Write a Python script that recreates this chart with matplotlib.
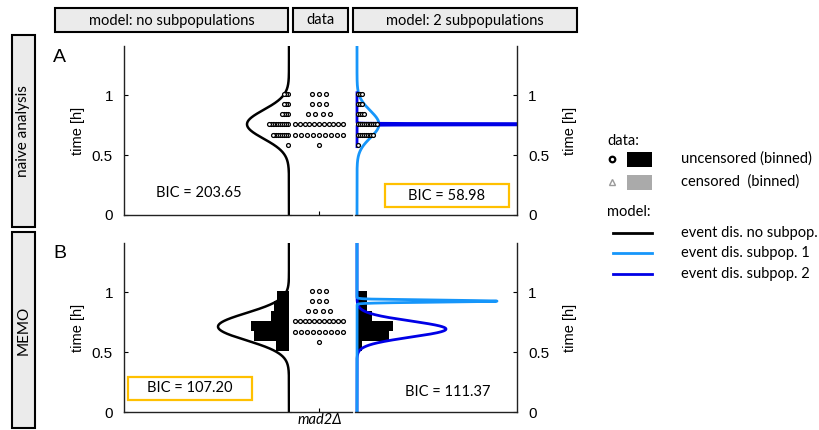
import numpy as np
import matplotlib
matplotlib.use("Agg")
import matplotlib.pyplot as plt
from matplotlib.patches import Rectangle
from matplotlib.lines import Line2D

# ---------------- data ----------------
time_rows = [0.585, 0.67, 0.757, 0.84, 0.925, 1.01]      # observed event times [h]
row_counts = [1, 9, 11, 4, 3, 3]                          # number of cells per time
bin_edges = [0.51, 0.594, 0.677, 0.76, 0.844, 0.927, 1.01]
hist_memo_nosub = [1.25, 3.5, 3.75, 1.75, 1.5, 1.2]       # binned density (left, MEMO)
hist_memo_2sub = [0.5, 3.2, 3.6, 1.5, 1.0, 1.0]           # binned density (right, MEMO)

# model event distributions: (mean, sd, amplitude)
naive_nosub = (0.757, 0.12, 4.2)
naive_sub1 = (0.757, 0.113, 2.2)
naive_sub2 = (0.757, 0.003, 60.0)
memo_nosub = (0.712, 0.113, 7.1)
memo_sub1 = (0.925, 0.008, 14.0)
memo_sub2 = (0.692, 0.067, 8.9)

bic_values = [203.65, 58.98, 107.20, 111.37]
col_titles = ["model: no subpopulations", "data", "model: 2 subpopulations"]
row_titles = ["naive analysis", "MEMO"]
panel_letters = ["A", "B"]
yticks = [0, 0.5, 1]
ytick_labels = ["0", "0.5", "1"]
strain = "mad2\u0394"

LIGHT = "#1696FA"
DARK = "#0000E6"
YEL = "#FFC000"
BOXFONT = ["Lato", "DejaVu Sans"]
AXFONT = ["Liberation Sans", "DejaVu Sans"]

W, H = 820, 430
fig = plt.figure(figsize=(8.2, 4.3), dpi=100)

# overlay axes in pixel coordinates for annotation boxes / legend
ov = fig.add_axes([0, 0, 1, 1])
ov.set_xlim(0, W)
ov.set_ylim(H, 0)
ov.axis("off")


def px_axes(x0, y0, x1, y1):
    return fig.add_axes([x0 / W, 1 - y1 / H, (x1 - x0) / W, (y1 - y0) / H])


def gauss(t, p):
    m, s, a = p
    return a * np.exp(-0.5 * ((t - m) / s) ** 2)


tgrid = np.linspace(0, 1.41, 4000)
tsub = tgrid[(tgrid > 0.57) & (tgrid < 1.02)]

rows_px = [(46, 215), (243, 412)]
YMAX = 1.41
DOT = dict(ms=2.8, mfc="white", mec="black", mew=0.9)

for r, (ytop, ybot) in enumerate(rows_px):
    axL = px_axes(124, ytop, 290.5, ybot)
    axM = px_axes(291, ytop, 352, ybot)
    axR = px_axes(355.5, ytop, 517, ybot)
    for ax in (axL, axM, axR):
        ax.set_ylim(0, YMAX)
        ax.patch.set_alpha(0)
        for s in ax.spines.values():
            s.set_linewidth(1.0)
            s.set_color("#222222")
    axL.set_xlim(16.5, -0.15)
    axM.set_xlim(-2.8, 3.3)
    axR.set_xlim(-0.15, 16.0)

    # left axis
    axL.spines["top"].set_visible(False)
    axL.spines["right"].set_visible(False)
    axL.set_xticks([])
    axL.set_yticks(yticks)
    axL.set_yticklabels(ytick_labels, fontfamily=AXFONT, fontsize=11)
    axL.tick_params(axis="y", direction="in", length=3, pad=8)
    axL.set_ylabel("time [h]", fontfamily=AXFONT, fontsize=10.5, labelpad=5)

    # middle axis
    for k in ("top", "right", "left"):
        axM.spines[k].set_visible(False)
    axM.set_yticks([])
    axM.set_xticks([0])
    axM.set_xticklabels([""])
    axM.tick_params(axis="x", direction="in", length=3)

    # right axis
    axR.spines["top"].set_visible(False)
    axR.spines["left"].set_visible(False)
    axR.set_xticks([])
    axR.yaxis.tick_right()
    axR.yaxis.set_label_position("right")
    axR.set_yticks(yticks)
    axR.set_yticklabels(ytick_labels, fontfamily=AXFONT, fontsize=11)
    axR.tick_params(axis="y", direction="in", length=3, pad=8)
    axR.set_ylabel("time [h]", fontfamily=AXFONT, fontsize=10.5, labelpad=10)

    # middle: data dots
    for t, n in zip(time_rows, row_counts):
        sp = min(0.72, 4.8 / max(n - 1, 1))
        xs = (np.arange(n) - (n - 1) / 2) * sp
        axM.plot(xs, [t] * n, "o", clip_on=False, **DOT)

    if r == 0:
        axL.plot(gauss(tgrid, naive_nosub), tgrid, color="black", lw=1.8, zorder=2)
        axR.plot(gauss(tgrid, naive_sub1), tgrid, color=LIGHT, lw=2.0, zorder=2)
        axR.plot(gauss(tsub, naive_sub2), tsub, color=DARK, lw=2.0, zorder=2.5)
        for t, n in zip(time_rows, row_counts):
            xs = 0.12 + 0.19 * np.arange(n)
            axL.plot(xs, [t] * n, "o", zorder=3, **DOT)
            axR.plot(xs, [t] * n, "o", zorder=3, **DOT)
    else:
        heights = np.diff(bin_edges)
        axL.barh(bin_edges[:-1], hist_memo_nosub, height=heights, align="edge",
                 color="black", zorder=1)
        axR.barh(bin_edges[:-1], hist_memo_2sub, height=heights, align="edge",
                 color="black", zorder=1)
        axL.plot(gauss(tgrid, memo_nosub), tgrid, color="black", lw=1.8, zorder=2)
        axR.plot(gauss(tgrid, memo_sub2), tgrid, color=DARK, lw=2.0, zorder=2)
        axR.plot(gauss(tgrid, memo_sub1), tgrid, color=LIGHT, lw=2.0, zorder=2.5)

# strain label under the data column
ov.text(320, 420, strain, ha="center", va="center", fontsize=10.5,
        fontstyle="italic", fontfamily=BOXFONT)

# ---------------- header / row boxes ----------------
hdr = [(55, 233), (293, 55), (353, 224)]
for (x0, w), txt in zip(hdr, col_titles):
    ov.add_patch(Rectangle((x0, 8), w, 24, fc="#ebebeb", ec="black", lw=1.5))
    ov.text(x0 + w / 2, 20.5, txt, ha="center", va="center", fontsize=10.5, fontfamily=BOXFONT)

rowbox = [(35, 192), (232, 196)]
for (y0, h), txt in zip(rowbox, row_titles):
    ov.add_patch(Rectangle((12, y0), 23, h, fc="#ebebeb", ec="black", lw=1.5))
    ov.text(23.5, y0 + h / 2, txt, ha="center", va="center", rotation=90,
            fontsize=11, fontfamily=BOXFONT)

for (x, y), letter in zip([(53, 57), (53, 253)], panel_letters):
    ov.text(x, y, letter, ha="left", va="center", fontsize=14, fontfamily=AXFONT)

# ---------------- BIC annotations ----------------
bic_pos = [(199, 193, False), (447, 195.5, True), (190, 388.5, True), (448, 392, False)]
for v, (x, y, boxed) in zip(bic_values, bic_pos):
    ov.text(x, y, f"BIC = {v:.2f}", ha="center", va="center", fontsize=10.5, fontfamily=BOXFONT)
    if boxed:
        ov.add_patch(Rectangle((x - 62, y - 11.5), 124, 23, fill=False, ec=YEL, lw=1.6))

# ---------------- legend ----------------
LX = 681
ov.text(607, 141, "data:", ha="left", va="center", fontsize=10.5, fontfamily=BOXFONT)
ov.add_line(Line2D([612], [159], marker="o", ms=4, mfc="white", mec="black", mew=1.6))
ov.add_patch(Rectangle((627, 152), 25, 15, fc="black", ec="none"))
ov.text(LX, 159, "uncensored (binned)", ha="left", va="center", fontsize=10.5, fontfamily=BOXFONT)
ov.add_line(Line2D([612], [182], marker="^", ms=5, mfc="white", mec="#9a9a9a", mew=1.0))
ov.add_patch(Rectangle((627, 175), 25, 15, fc="#aaaaaa", ec="none"))
ov.text(LX, 182, "censored  (binned)", ha="left", va="center", fontsize=10.5, fontfamily=BOXFONT)
ov.text(607, 212, "model:", ha="left", va="center", fontsize=10.5, fontfamily=BOXFONT)
for y, c, txt in [(233, "black", "event dis. no subpop."),
                  (253, LIGHT, "event dis. subpop. 1"),
                  (274, DARK, "event dis. subpop. 2")]:
    ov.add_line(Line2D([613, 652], [y, y], color=c, lw=2.0))
    ov.text(LX, y, txt, ha="left", va="center", fontsize=10.5, fontfamily=BOXFONT)

fig.savefig("out.png", dpi=100)
